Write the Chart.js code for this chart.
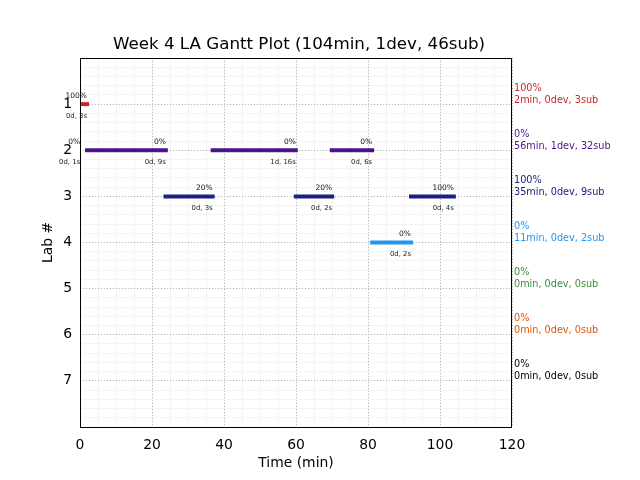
<!DOCTYPE html>
<html>
<head>
<meta charset="utf-8">
<script src="https://cdn.jsdelivr.net/npm/chart.js@4/dist/chart.umd.min.js"></script>
<style>
html,body{margin:0;padding:0;background:#fff;}
#wrap{width:640px;height:480px;position:relative;}
</style>
</head>
<body>
<div id="wrap"><canvas id="c" width="640" height="480"></canvas></div>
<script>
// ---- data ----
const chartTitle = 'Week 4 LA Gantt Plot (104min, 1dev, 46sub)';
const xAxisTitle = 'Time (min)';
const yAxisTitle = 'Lab #';
const rowLabels = ['1', '2', '3', '4', '5', '6', '7'];
const rowColors = ['#c62828', '#4a148c', '#1a237e', '#2196f3', '#388e3c', '#e65100', '#000000'];
const rowPct = ['100%', '0%', '100%', '0%', '0%', '0%', '0%'];
const rowSummary = ['2min, 0dev, 3sub', '56min, 1dev, 32sub', '35min, 0dev, 9sub', '11min, 0dev, 2sub', '0min, 0dev, 0sub', '0min, 0dev, 0sub', '0min, 0dev, 0sub'];
const xTicks = [0, 20, 40, 60, 80, 100, 120];

const sessionRow   = [1, 2, 2, 2, 2, 3, 3, 3, 4];
const sessionStart = [0.2, 0.6, 1.4, 36.3, 69.4, 23.2, 59.4, 91.4, 80.6];
const sessionEnd   = [2.5, 0.6, 24.4, 60.5, 81.7, 37.4, 70.6, 104.4, 92.5];
const sessionPct   = ['100%', '0%', '0%', '0%', '0%', '20%', '20%', '100%', '0%'];
const sessionTime  = ['0d, 3s', '0d, 1s', '0d, 9s', '1d, 16s', '0d, 6s', '0d, 3s', '0d, 2s', '0d, 4s', '0d, 2s'];

Chart.defaults.font.family = "'DejaVu Sans', sans-serif";
Chart.defaults.color = '#000';

const datasets = sessionRow.map((r, i) => ({
  data: [{x: sessionStart[i], y: r}, {x: sessionEnd[i], y: r}],
  borderColor: rowColors[r - 1],
  backgroundColor: rowColors[r - 1],
  borderWidth: 4,
  borderCapStyle: 'butt',
  showLine: true,
  pointRadius: 0,
  pointHoverRadius: 0,
  tension: 0
}));

const annotate = {
  id: 'annotate',
  afterDraw(chart) {
    const ctx = chart.ctx;
    const xs = chart.scales.x, ys = chart.scales.y;
    const a = chart.chartArea;
    ctx.save();
    // frame
    ctx.strokeStyle = '#000';
    ctx.lineWidth = 1;
    ctx.strokeRect(Math.round(a.left) + 0.5, Math.round(a.top) + 0.5, Math.round(a.right - a.left) - 1, Math.round(a.bottom - a.top));
    // session labels
    ctx.textAlign = 'right';
    ctx.textBaseline = 'middle';
    for (let i = 0; i < sessionRow.length; i++) {
      const px = xs.getPixelForValue(sessionEnd[i]) - 2;
      const py = ys.getPixelForValue(sessionRow[i]);
      ctx.fillStyle = '#111';
      ctx.font = "7.5px 'DejaVu Sans'";
      ctx.fillText(sessionPct[i], px, py - 8);
      ctx.fillStyle = '#222';
      ctx.font = "6.9px 'DejaVu Sans'";
      ctx.fillText(sessionTime[i], px, py + 11.7);
    }
    // right side summaries
    ctx.textAlign = 'left';
    ctx.font = "9.7px 'DejaVu Sans'";
    for (let r = 0; r < rowLabels.length; r++) {
      const py = ys.getPixelForValue(r + 1);
      ctx.fillStyle = rowColors[r];
      ctx.fillText(rowPct[r], a.right + 2, py - 16);
      ctx.fillText(rowSummary[r], a.right + 2, py - 4);
    }
    // title
    ctx.fillStyle = '#000';
    ctx.textAlign = 'center';
    ctx.textBaseline = 'alphabetic';
    ctx.font = "16.7px 'DejaVu Sans'";
    ctx.fillText(chartTitle, (a.left + a.right) / 2 + 3, 49);
    ctx.restore();
  }
};

new Chart(document.getElementById('c'), {
  type: 'scatter',
  data: {datasets},
  plugins: [annotate],
  options: {
    responsive: false,
    animation: false,
    layout: {padding: {top: 58, right: 128, left: 0, bottom: 0}},
    plugins: {legend: {display: false}, tooltip: {enabled: false}, title: {display: false}},
    scales: {
      xm: {
        type: 'linear', position: 'bottom', min: 0, max: 120,
        ticks: {display: false, stepSize: 5},
        grid: {color: '#f4f4f4', drawTicks: false, lineWidth: 1},
        border: {display: false},
        afterFit: s => { s.height = 0; }
      },
      ym: {
        type: 'linear', position: 'left', min: 0, max: 8, reverse: true,
        ticks: {display: false, stepSize: 0.2},
        grid: {color: '#f4f4f4', drawTicks: false, lineWidth: 1},
        border: {display: false},
        afterFit: s => { s.width = 0; }
      },
      x: {
        type: 'linear', position: 'bottom', min: 0, max: 120,
        afterBuildTicks: s => { s.ticks = xTicks.map(v => ({value: v})); },
        ticks: {font: {size: 13.9}, color: '#000', padding: 10, maxRotation: 0, autoSkip: false},
        grid: {color: '#b8b8b8', drawTicks: false, lineWidth: 1},
        border: {display: false, dash: [1, 2]},
        title: {display: true, text: xAxisTitle, font: {size: 13.9}, color: '#000', padding: {top: 0, bottom: 8}},
        afterFit: s => { s.height = 53; }
      },
      y: {
        type: 'linear', position: 'left', min: 0, max: 8, reverse: true,
        afterBuildTicks: s => { s.ticks = [0, 1, 2, 3, 4, 5, 6, 7, 8].map(v => ({value: v})); },
        ticks: {
          font: {size: 13.9}, color: '#000', padding: 8, autoSkip: false,
          callback: v => (v >= 1 && v <= rowLabels.length) ? rowLabels[v - 1] : ''
        },
        grid: {color: '#b8b8b8', drawTicks: false, lineWidth: 1},
        border: {display: false, dash: [1, 2]},
        title: {display: true, text: yAxisTitle, font: {size: 13.9}, color: '#000', padding: {top: 39.6, bottom: 0}},
        afterFit: s => { s.width = 80; }
      }
    }
  }
});
</script>
</body>
</html>
